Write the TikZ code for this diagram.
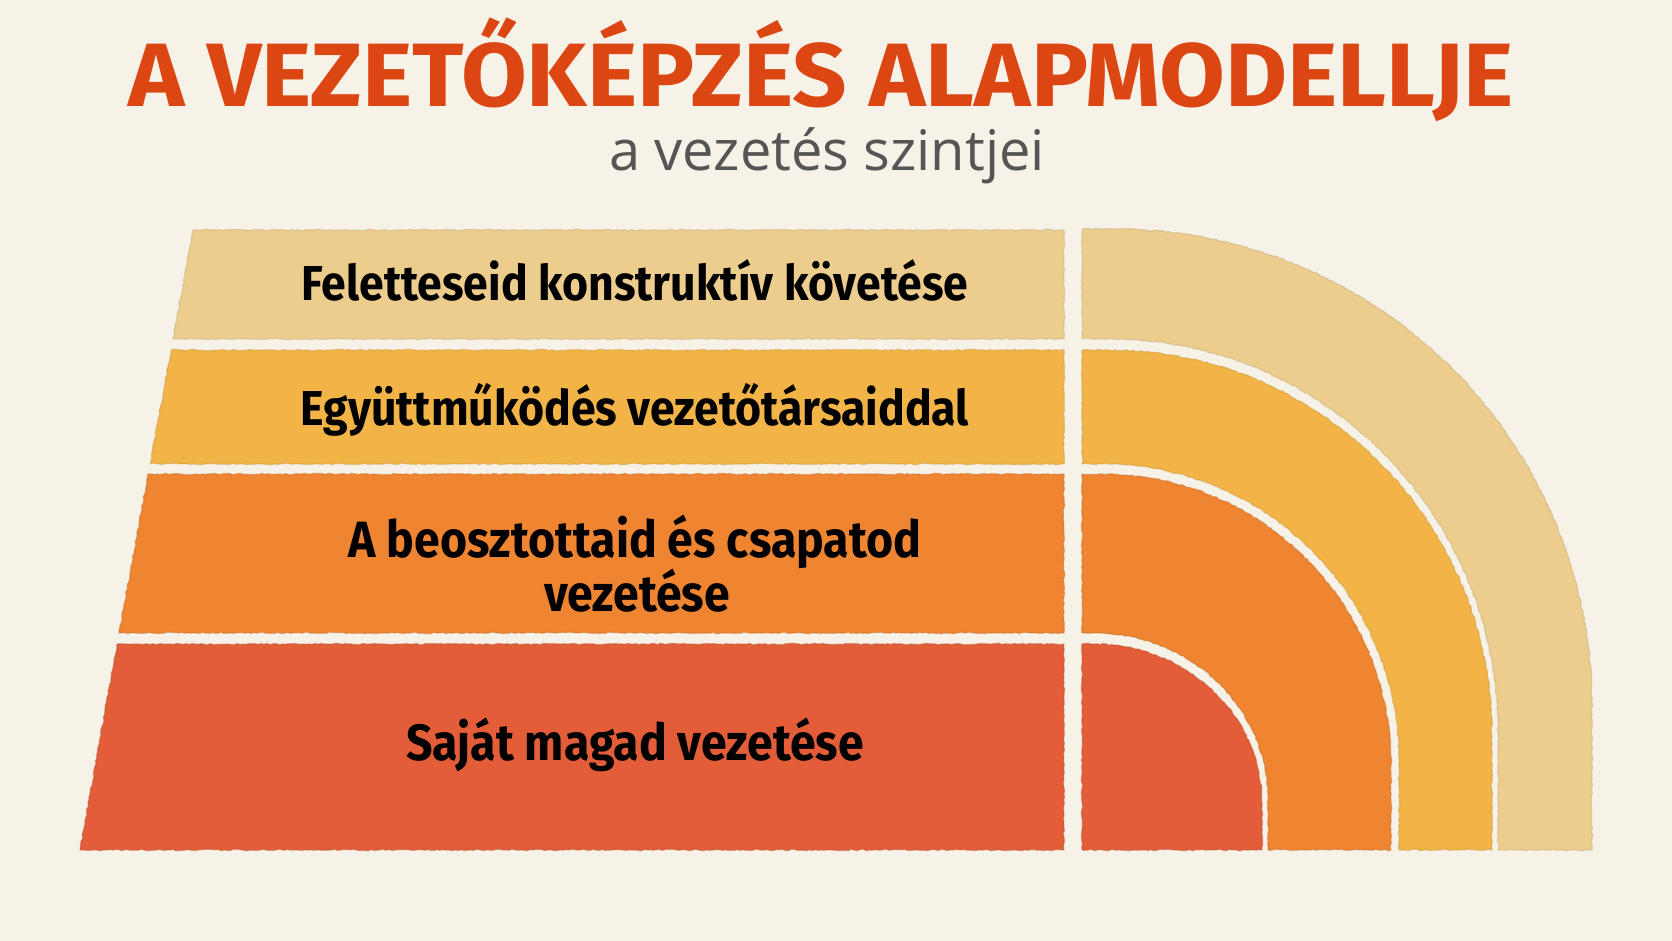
\documentclass[tikz,border=0pt]{standalone}
\usepackage{fontspec}
\setmainfont{Fira Sans}
\newfontfamily\titlefont{Fira Sans}[FakeStretch=1.06]
\newfontfamily\barfont{Fira Sans}[FakeStretch=0.91]
\newfontfamily\subfont{Open Sans}
\usetikzlibrary{decorations.pathmorphing}
\definecolor{bg}{HTML}{F7F2E8}
\definecolor{cA}{HTML}{ECCD8D}
\definecolor{cB}{HTML}{F2B446}
\definecolor{cC}{HTML}{EF8431}
\definecolor{cD}{HTML}{E35E38}
\definecolor{titlecol}{HTML}{DB4612}
\definecolor{subcol}{HTML}{555555}
\tikzset{
  wash/.style={fill=#1, draw=#1!78!black, draw opacity=0.35, line width=1.3pt, line join=round,
    decorate, decoration={random steps, segment length=3pt, amplitude=0.7pt}},
  bartext/.style={font=\barfont\bfseries\fontsize{51}{52}\selectfont, text=black, anchor=base, inner sep=0pt},
  bartextsm/.style={bartext, font=\barfont\bfseries\fontsize{49}{50}\selectfont},
}
\begin{document}
\begin{tikzpicture}[x=1pt,y=1pt]
\pgfmathsetseed{7}
\useasboundingbox (0,0) rectangle (1672,941);
\fill[bg] (0,0) rectangle (1672,941);
% bars (left edges on a slanted line)
\path[wash=cA] (193,711) -- (1064,711) -- (1064,602) -- (173,602) -- cycle;
\path[wash=cB] (171,591) -- (1064,591) -- (1064,477) -- (150,477) -- cycle;
\path[wash=cC] (148,467) -- (1064,467) -- (1064,308) -- (119,308) -- cycle;
\path[wash=cD] (117,297) -- (1064,297) -- (1064,91) -- (80,91) -- cycle;
% quarter bands, corner at (1082,91)
\path[wash=cA] (1082,712) -- (1115,712) arc[start angle=90, end angle=0, x radius=477, y radius=477] -- (1592,91)
  -- (1498,91) -- (1498,209) arc[start angle=0, end angle=90, x radius=389, y radius=393] -- (1082,602) -- cycle;
\path[wash=cB] (1082,591) -- (1109,591) arc[start angle=90, end angle=0, x radius=383, y radius=385] -- (1492,91)
  -- (1399,91) -- (1399,180) arc[start angle=0, end angle=90, x radius=296, y radius=297] -- (1082,477) -- cycle;
\path[wash=cC] (1082,467) -- (1102,467) arc[start angle=90, end angle=0, x radius=289, y radius=290] -- (1391,91)
  -- (1268,91) -- (1268,141) arc[start angle=0, end angle=90, x radius=174, y radius=167] -- (1082,308) -- cycle;
\path[wash=cD] (1082,297) -- (1094,297) arc[start angle=90, end angle=0, x radius=168, y radius=159] -- (1262,91)
  -- (1082,91) -- cycle;
% titles
\node[anchor=base, inner sep=0pt, text=titlecol, font=\titlefont\bfseries\fontsize{90}{90}\selectfont] (title) at (821,834) {A VEZETŐKÉPZÉS ALAPMODELLJE};
\node[anchor=base, inner sep=0pt, text=subcol, font=\subfont\fontsize{56}{56}\selectfont] (subtitle) at (827,770) {a vezetés szintjei};
% level texts
\node[bartextsm] (t1) at (635,640) {Feletteseid konstruktív követése};
\node[bartextsm] (t2) at (635,515) {Együttműködés vezetőtársaiddal};
\node[bartext] (t3a) at (635,383) {A beosztottaid és csapatod};
\node[bartext] (t3b) at (637,329) {vezetése};
\node[bartext] (t4) at (635,180) {Saját magad vezetése};
\end{tikzpicture}
\end{document}
